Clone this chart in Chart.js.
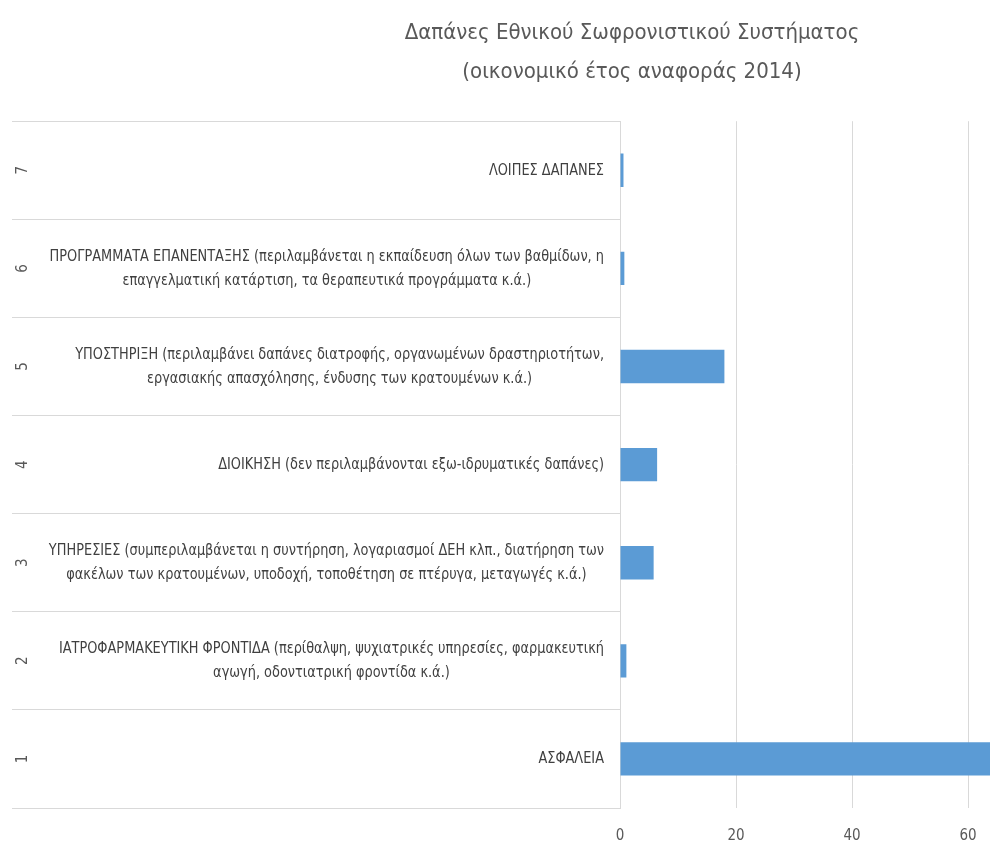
<!DOCTYPE html>
<html>
<head>
<meta charset="utf-8">
<script src="https://cdn.jsdelivr.net/npm/chart.js@4/dist/chart.umd.min.js"></script>
<style>
  html, body { margin: 0; padding: 0; background: #ffffff; overflow: hidden; }
  #wrap { width: 1252px; height: 841px; position: relative; }
</style>
</head>
<body>
<div id="wrap"><canvas id="c"></canvas></div>
<script>
// ---- data ----
const categoryNumbers = ['1', '2', '3', '4', '5', '6', '7'];
const categoryLabels = [
  ['ΑΣΦΑΛΕΙΑ'],
  ['ΙΑΤΡΟΦΑΡΜΑΚΕΥΤΙΚΗ ΦΡΟΝΤΙΔΑ (περίθαλψη, ψυχιατρικές υπηρεσίες, φαρμακευτική', 'αγωγή, οδοντιατρική φροντίδα κ.ά.)'],
  ['ΥΠΗΡΕΣΙΕΣ (συμπεριλαμβάνεται η συντήρηση, λογαριασμοί ΔΕΗ κλπ., διατήρηση των', 'φακέλων των κρατουμένων, υποδοχή, τοποθέτηση σε πτέρυγα, μεταγωγές κ.ά.)'],
  ['ΔΙΟΙΚΗΣΗ (δεν περιλαμβάνονται εξω-ιδρυματικές δαπάνες)'],
  ['ΥΠΟΣΤΗΡΙΞΗ (περιλαμβάνει δαπάνες διατροφής, οργανωμένων δραστηριοτήτων,', 'εργασιακής απασχόλησης, ένδυσης των κρατουμένων κ.ά.)'],
  ['ΠΡΟΓΡΑΜΜΑΤΑ ΕΠΑΝΕΝΤΑΞΗΣ (περιλαμβάνεται η εκπαίδευση όλων των βαθμίδων, η', 'επαγγελματική κατάρτιση, τα θεραπευτικά προγράμματα κ.ά.)'],
  ['ΛΟΙΠΕΣ ΔΑΠΑΝΕΣ']
];
const values = [66.5, 1.1, 5.8, 6.4, 18.0, 0.75, 0.6];
const xTicks = [0, 20, 40, 60, 80];
const titleLines = ['Δαπάνες Εθνικού Σωφρονιστικού Συστήματος', '(οικονομικό έτος αναφοράς 2014)'];

// ---- style ----
const FONT = "'DejaVu Sans Condensed', 'Liberation Sans Narrow', 'Open Sans', sans-serif";
const GRID = '#d9d9d9';
const TEXT = '#595959';
const LABEL = '#404040';

const twoLevelLabels = {
  id: 'twoLevelLabels',
  afterDraw(chart) {
    const ctx = chart.ctx;
    const yScale = chart.scales.y;
    const right = chart.chartArea.left - 16;
    const numX = yScale.left + 11;
    const lh = 24;
    const sx = 0.87;
    ctx.save();
    categoryNumbers.forEach((num, i) => {
      const yc = yScale.getPixelForValue(i);
      // outer level: rotated number
      ctx.save();
      ctx.font = '15px ' + FONT;
      ctx.fillStyle = TEXT;
      ctx.translate(numX, yc);
      ctx.rotate(-Math.PI / 2);
      ctx.textAlign = 'center';
      ctx.textBaseline = 'middle';
      ctx.fillText(num, 0, 0);
      ctx.restore();
      // inner level: description, block right-aligned, lines centered
      const lines = categoryLabels[i];
      ctx.save();
      ctx.font = '16.5px ' + FONT;
      ctx.fillStyle = LABEL;
      ctx.textAlign = 'center';
      ctx.textBaseline = 'middle';
      const w = Math.max(...lines.map(l => ctx.measureText(l).width));
      ctx.translate(right, yc);
      ctx.scale(sx, 1);
      lines.forEach((l, k) => {
        ctx.fillText(l, -w / 2, (k - (lines.length - 1) / 2) * lh);
      });
      ctx.restore();
    });
    ctx.restore();
  }
};

new Chart(document.getElementById('c'), {
  type: 'bar',
  data: {
    labels: categoryNumbers,
    datasets: [{
      data: values,
      backgroundColor: '#5B9BD5',
      borderWidth: 0,
      barPercentage: 0.34,
      categoryPercentage: 1
    }]
  },
  options: {
    indexAxis: 'y',
    responsive: true,
    maintainAspectRatio: false,
    animation: false,
    layout: { padding: { left: 12, right: 0, top: 0, bottom: 0 } },
    plugins: {
      legend: { display: false },
      tooltip: { enabled: false },
      title: {
        display: true,
        text: titleLines,
        color: TEXT,
        font: { family: FONT, size: 22, weight: 'normal', lineHeight: 1.8 },
        padding: { top: 13, bottom: 29 }
      }
    },
    scales: {
      x: {
        type: 'linear',
        min: xTicks[0],
        max: xTicks[xTicks.length - 1],
        afterBuildTicks(scale) { scale.ticks = xTicks.map(v => ({ value: v })); },
        afterFit(scale) { scale.height = 33; },
        grid: { color: GRID, lineWidth: 1, drawTicks: false },
        border: { display: false },
        ticks: { color: TEXT, padding: 21, font: { family: FONT, size: 15, lineHeight: 1 } }
      },
      y: {
        type: 'category',
        reverse: true,
        offset: true,
        grid: { offset: true, drawOnChartArea: false, drawTicks: true, tickLength: 608, color: GRID, lineWidth: 1 },
        border: { display: true, color: GRID },
        ticks: { display: false }
      },
      rightSpace: {
        type: 'linear',
        position: 'right',
        display: true,
        afterFit(scale) { scale.width = 168; },
        grid: { display: false, drawTicks: false },
        border: { display: false },
        ticks: { display: false }
      }
    }
  },
  plugins: [twoLevelLabels]
});
</script>
</body>
</html>
